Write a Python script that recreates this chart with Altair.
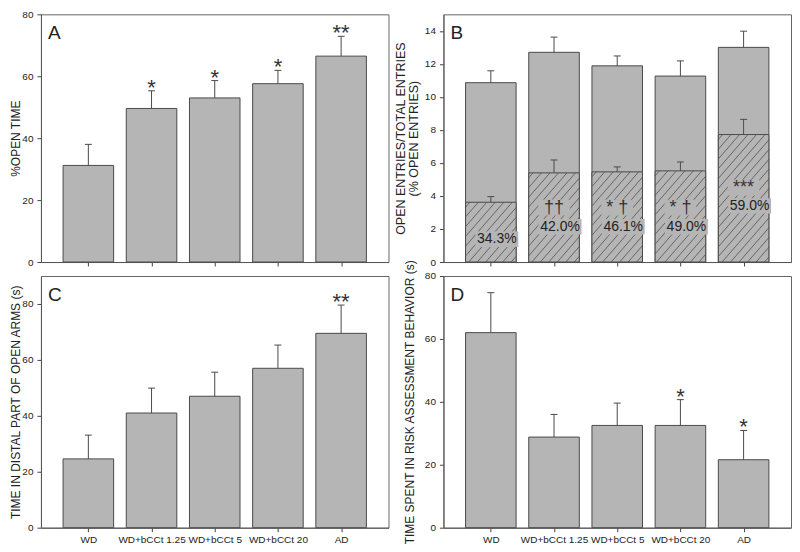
import altair as alt
import numpy as np
import pandas as pd

# ---------------- data ----------------
groups = ["WD", "WD+bCCt 1.25", "WD+bCCt 5", "WD+bCCt 20", "AD"]

# A: % open time
open_time = [31.2, 49.6, 53.0, 57.6, 66.5]
open_time_err = [6.8, 5.7, 5.6, 4.3, 6.4]
open_time_sig = ["", "*", "*", "*", "**"]

# B: total entries and open entries
total_entries = [10.86, 12.70, 11.88, 11.26, 13.00]
total_entries_err = [0.72, 0.92, 0.60, 0.92, 0.98]
open_entries = [3.62, 5.40, 5.46, 5.52, 7.72]
open_entries_err = [0.34, 0.78, 0.30, 0.54, 0.92]
open_entries_pct = ["34.3%", "42.0%", "46.1%", "49.0%", "59.0%"]
open_entries_sig = ["", "††", "* †", "* †", "***"]
pct_label_y = [1.38, 2.14, 2.14, 2.14, 3.40]
sig_label_y = [3.3, 3.3, 3.3, 3.3, 4.50]

# C: time in distal part of open arms
distal_time = [24.6, 41.0, 47.0, 57.0, 69.5]
distal_time_err = [8.5, 8.9, 8.6, 8.3, 10.1]
distal_time_sig = ["", "", "", "", "**"]

# D: time in risk assessment
risk_time = [62.0, 28.8, 32.5, 32.5, 21.6]
risk_time_err = [12.7, 7.2, 7.1, 8.2, 9.3]
risk_time_sig = ["", "", "", "*", "*"]

# ---------------- styling ----------------
FONT = "Liberation Sans"
BAR = "#b5b5b5"
EDGE = "#4a4a4a"
INK = "#222222"
PANEL_W = 348
TOP_H = 248
BOT_H = 252
X_DOMAIN = [-0.75, 4.75]
BAR_HALF = 0.40
CAP_HALF = 0.055

label_expr = "[" + ",".join("'" + g + "'" for g in groups) + "][datum.value]"


def frame_df(values, errs, sigs):
    df = pd.DataFrame({"idx": np.arange(len(groups)), "group": groups,
                       "value": values, "err": errs, "sig": sigs})
    df["top"] = df["value"] + df["err"]
    df["lo"] = df["idx"] - BAR_HALF
    df["hi"] = df["idx"] + BAR_HALF
    df["cap_lo"] = df["idx"] - CAP_HALF
    df["cap_hi"] = df["idx"] + CAP_HALF
    df["zero"] = 0.0
    return df


def axes(ymax, ystep, title, show_x_labels, title_pad, title_size=12):
    xscale = alt.Scale(domain=X_DOMAIN, nice=False, zero=False)
    yscale = alt.Scale(domain=[0, ymax], nice=False, zero=True)
    xaxis = alt.Axis(values=list(range(len(groups))), labels=show_x_labels,
                     labelExpr=label_expr, title="", grid=False, tickSize=4,
                     labelPadding=3)
    yaxis = alt.Axis(values=list(range(0, int(ymax) + 1, ystep)), title=title,
                     grid=False, tickSize=4, labelPadding=4, minExtent=18,
                     maxExtent=18, titlePadding=title_pad,
                     titleFontSize=title_size, titleLineHeight=13)
    return xscale, yscale, xaxis, yaxis


class P:
    """Holds the shared scales/axes of one panel."""

    def __init__(self, ymax, ystep, title, show_x, title_pad, title_size=12):
        self.xs, self.ys, self.xa, self.ya = axes(ymax, ystep, title, show_x,
                                                  title_pad, title_size)

    def X(self, f):
        return alt.X(f + ":Q", scale=self.xs, axis=self.xa)

    def Y(self, f):
        return alt.Y(f + ":Q", scale=self.ys, axis=self.ya)


def bar_layer(df, p, value_field="value"):
    return alt.Chart(df).mark_rect(fill=BAR, stroke=EDGE, strokeWidth=1).encode(
        x=p.X("lo"), x2="hi:Q", y=p.Y(value_field), y2="zero:Q")


def err_layers(df, p, value_field="value", top_field="top"):
    base = alt.Chart(df)
    stem = base.mark_rule(color=EDGE, strokeWidth=1).encode(
        x=p.X("idx"), y=p.Y(value_field), y2=top_field + ":Q")
    cap = base.mark_rule(color=EDGE, strokeWidth=1).encode(
        x=p.X("cap_lo"), x2="cap_hi:Q", y=p.Y(top_field))
    return [stem, cap]


def letter_layer(letter):
    return alt.Chart(pd.DataFrame({"t": [letter]})).mark_text(
        font=FONT, fontSize=19, color=INK, align="left", baseline="top"
    ).encode(x=alt.value(7), y=alt.value(10), text="t:N")


def star_layer(df, p, size=22):
    return alt.Chart(df).mark_text(
        font=FONT, fontSize=size, color="#333333", baseline="alphabetic", dy=4
    ).encode(x=p.X("idx"), y=p.Y("top"), text="sig:N")


def simple_panel(values, errs, sigs, ymax, ystep, title, letter, show_x, height,
                 title_pad):
    df = frame_df(values, errs, sigs)
    p = P(ymax, ystep, title, show_x, title_pad)
    layers = [bar_layer(df, p)] + err_layers(df, p)
    layers += [star_layer(df, p), letter_layer(letter)]
    return alt.layer(*layers).properties(width=PANEL_W, height=height)


# ---------------- panel A ----------------
panel_a = simple_panel(open_time, open_time_err, open_time_sig, 80, 20,
                       "%OPEN TIME", "A", False, TOP_H, 0.5)

# ---------------- panel B ----------------
b_ymax = 15
df_b = frame_df(total_entries, total_entries_err, [""] * len(groups))
df_b["open"] = open_entries
df_b["open_top"] = np.array(open_entries) + np.array(open_entries_err)
df_b["pct"] = open_entries_pct
df_b["sig2"] = open_entries_sig
df_b["pct_y"] = pct_label_y
df_b["sig_y"] = sig_label_y

pb = P(b_ymax, 2, ["OPEN ENTRIES/TOTAL ENTRIES", "(% OPEN ENTRIES)"], False, 4.5,
       title_size=12.5)

# hatch lines for the open-entries part of each bar (derived from the bar values)
px_x = PANEL_W / (X_DOMAIN[1] - X_DOMAIN[0])
px_y = TOP_H / b_ymax
slope, gap = 1.15, 8.5
hatch = []
for i, h in enumerate(open_entries):
    W = 2 * BAR_HALF * px_x
    H = h * px_y
    for c in np.arange(-H / slope + gap / 2, W, gap):
        x0, x1 = max(c, 0.0), min(c + H / slope, W)
        if x1 - x0 < 0.6:
            continue
        hatch.append({"hx": i - BAR_HALF + x0 / px_x, "hx2": i - BAR_HALF + x1 / px_x,
                      "hy": slope * (x0 - c) / px_y, "hy2": slope * (x1 - c) / px_y})
df_hatch = pd.DataFrame(hatch)

base_b = alt.Chart(df_b)
total_bars = bar_layer(df_b, pb)
open_bars = base_b.mark_rect(fill=BAR, stroke=EDGE, strokeWidth=1).encode(
    x=pb.X("lo"), x2="hi:Q", y=pb.Y("open"), y2="zero:Q")
hatch_lines = alt.Chart(df_hatch).mark_rule(color="#505050", strokeWidth=0.8).encode(
    x=pb.X("hx"), x2="hx2:Q", y=pb.Y("hy"), y2="hy2:Q")
pct_box = base_b.mark_point(shape="M-1,-0.36H1V0.36H-1Z", filled=True, fill=BAR,
                            opacity=1, size=1850, xOffset=6).encode(
    x=pb.X("idx"), y=pb.Y("pct_y"))
sig_box = alt.Chart(df_b[df_b["sig2"] != ""]).mark_point(
    shape="M-1,-0.5H1V0.5H-1Z", filled=True, fill=BAR, opacity=1,
    size=1000).encode(x=pb.X("idx"), y=pb.Y("sig_y"))
pct_text = base_b.mark_text(font=FONT, fontSize=14, color=INK, baseline="middle",
                            dx=6).encode(x=pb.X("idx"), y=pb.Y("pct_y"), text="pct:N")
sig_text = base_b.mark_text(font=FONT, fontSize=18, color="#333333",
                            baseline="middle").encode(
    x=pb.X("idx"), y=pb.Y("sig_y"), text="sig2:N")
panel_b = alt.layer(
    total_bars, open_bars, hatch_lines, pct_box, sig_box, pct_text, sig_text,
    *err_layers(df_b, pb),
    *err_layers(df_b, pb, "open", "open_top"),
    letter_layer("B"),
).properties(width=PANEL_W, height=TOP_H)

# ---------------- panel C ----------------
panel_c = simple_panel(distal_time, distal_time_err, distal_time_sig, 90, 20,
                       "TIME IN DISTAL PART OF OPEN ARMS (s)", "C", True, BOT_H, 0.5)

# ---------------- panel D ----------------
panel_d = simple_panel(risk_time, risk_time_err, risk_time_sig, 80, 20,
                       "TIME SPENT IN RISK ASSESSMENT BEHAVIOR (s)", "D", True,
                       BOT_H, 9)

chart = alt.concat(
    panel_a, panel_b, panel_c, panel_d, columns=2, bounds="flush",
    spacing={"row": 14, "column": 55},
).properties(
    padding={"left": 0, "top": 0, "right": 0, "bottom": 0},
    background="white",
).configure_view(
    stroke="#666666", strokeWidth=1
).configure_axis(
    labelFont=FONT, titleFont=FONT, labelFontSize=10, labelColor=INK,
    titleColor=INK, titleFontWeight="normal", tickColor="#444444",
    domainColor="#555555",
)

chart.save("out.html", embed_options={"renderer": "svg", "actions": False})
